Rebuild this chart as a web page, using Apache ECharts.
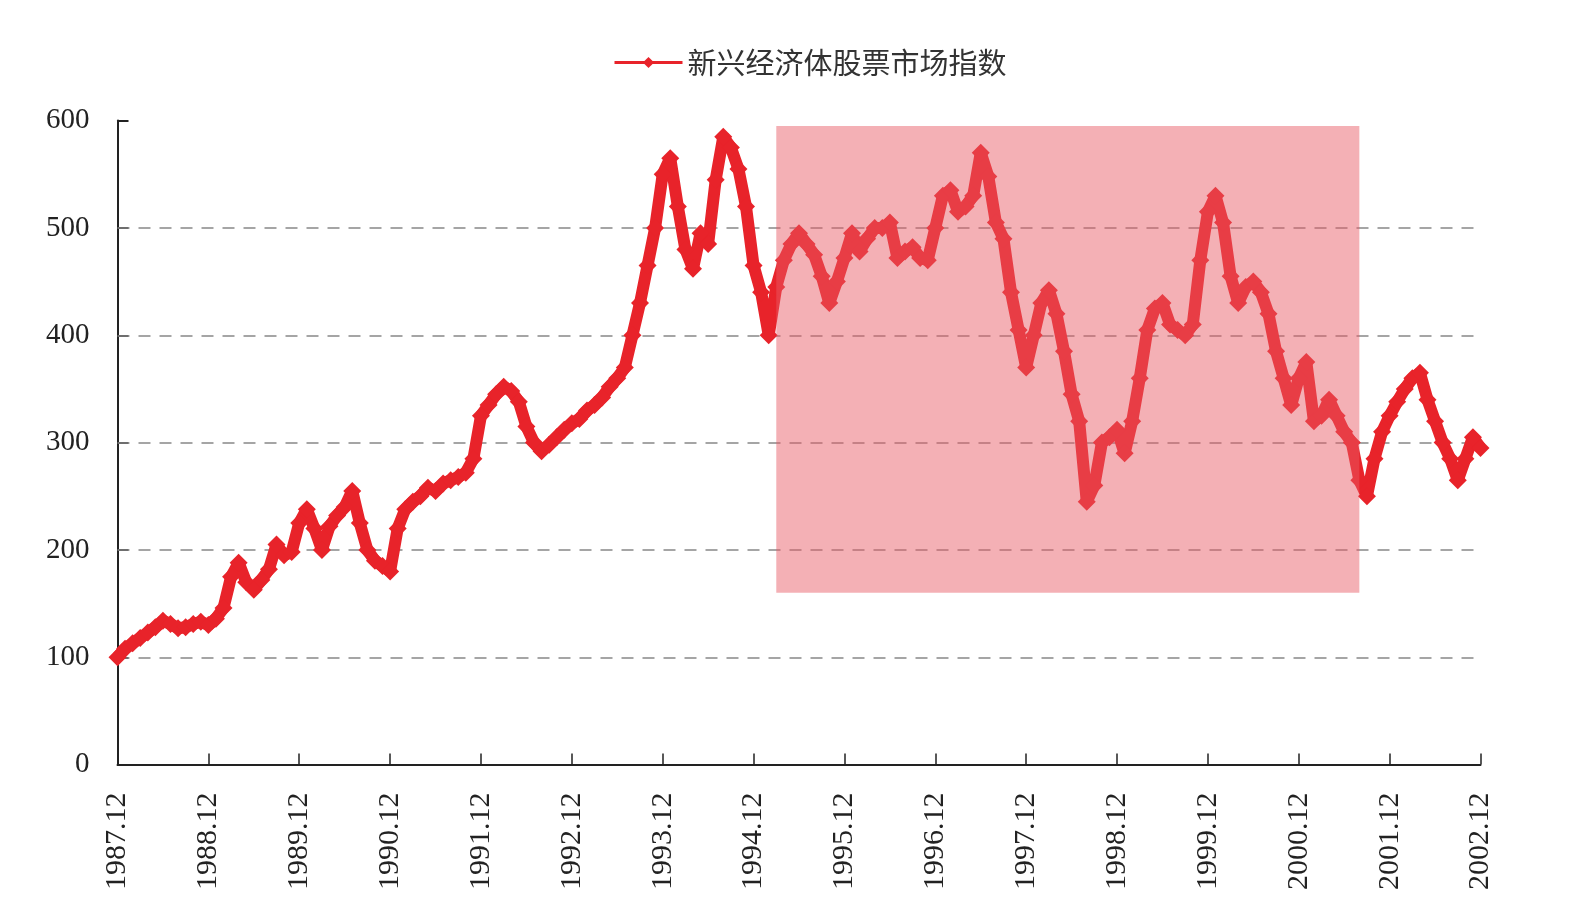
<!DOCTYPE html>
<html>
<head>
<meta charset="utf-8">
<title>新兴经济体股票市场指数</title>
<script src="https://cdn.jsdelivr.net/npm/echarts@6/dist/echarts.min.js"></script>
<style>
    html, body { margin: 0; padding: 0; background: #fff; }
    #main { width: 1586px; height: 916px; }
</style>
</head>
<body>
<div id="main"></div>
<script>
// 月度指数，1987.12 = 100，读自原图
var seriesName = '新兴经济体股票市场指数';
var indexValues = [
    100, 108, 113, 118, 123, 128, 134, 131, 127, 128, 131, 133,   // 1987.12 - 1988.11
    130, 136, 146, 175, 188, 170, 163, 172, 182, 205, 195, 198,   // 1988.12 - 1989.11
    225, 238, 220, 200, 222, 232, 240, 255, 225, 200, 190, 185,   // 1989.12 - 1990.11
    180, 220, 238, 245, 250, 258, 255, 262, 265, 268, 272, 285,   // 1990.12 - 1991.11
    325, 335, 345, 352, 348, 338, 315, 300, 292, 298, 305, 312,   // 1991.12 - 1992.11
    318, 322, 330, 335, 342, 352, 360, 370, 400, 430, 465, 500,   // 1992.12 - 1993.11
    550, 565, 520, 480, 462, 495, 485, 545, 585, 575, 555, 520,   // 1993.12 - 1994.11
    465, 440, 400, 445, 470, 485, 495, 485, 475, 455, 430, 450,   // 1994.12 - 1995.11
    472, 495, 478, 490, 500, 500, 505, 472, 478, 482, 472, 470,   // 1995.12 - 1996.11
    500, 530, 535, 515, 520, 530, 570, 548, 505, 490, 440, 405,   // 1996.12 - 1997.11
    370, 400, 430, 442, 420, 385, 345, 320, 245, 260, 300, 305,   // 1997.12 - 1998.11
    312, 290, 320, 360, 405, 425, 430, 410, 405, 400, 410, 470,   // 1998.12 - 1999.11
    515, 530, 505, 455, 430, 445, 450, 440, 420, 385, 360, 335,   // 1999.12 - 2000.11
    360, 375, 320, 325, 340, 325, 310, 300, 265, 250, 285, 310,   // 2000.12 - 2001.11
    325, 338, 350, 360, 365, 340, 320, 300, 285, 265, 285, 305,   // 2001.12 - 2002.11
    295                                                           // 2002.12
];
var yGridValues = [100, 200, 300, 400, 500];
var shadeFrom = '1995.03';
var shadeTo = '2001.08';
var shadeLow = 160;
var shadeHigh = 595;

// 月份类目 1987.12 ... 2002.12
var months = [];
(function () {
    var y = 1987, m = 12;
    for (var i = 0; i < indexValues.length; i++) {
        months.push(y + '.' + (m < 10 ? '0' + m : m));
        m++;
        if (m > 12) { m = 1; y++; }
    }
})();

var myChart = echarts.init(document.getElementById('main'));
var red = '#e8232a';
var serif = '"Liberation Serif", "Times New Roman", serif';

var option = {
    animation: false,
    backgroundColor: '#fff',
    legend: {
        data: [seriesName],
        top: 43,
        left: 608,
        itemWidth: 68,
        itemHeight: 14,
        itemGap: 10,
        lineStyle: { width: 3 },
        textStyle: {
            fontFamily: '"Noto Sans CJK SC", sans-serif',
            fontSize: 29,
            color: '#333'
        }
    },
    grid: {
        left: 117.5,
        right: 105.5,
        top: 120.6,
        bottom: 151.4,
        containLabel: false
    },
    xAxis: {
        type: 'category',
        data: months,
        boundaryGap: false,
        axisLine: { lineStyle: { color: '#222', width: 2 } },
        axisTick: { inside: true, length: 11, interval: 11, lineStyle: { color: '#222', width: 1.5 } },
        axisLabel: {
            interval: 11,
            rotate: 90,
            margin: 28,
            fontFamily: serif,
            fontSize: 30,
            color: '#222'
        },
        splitLine: { show: false }
    },
    yAxis: {
        type: 'value',
        min: 0,
        max: 600,
        interval: 100,
        axisLine: { show: true, lineStyle: { color: '#222', width: 2 } },
        axisTick: { show: true, inside: true, length: 11, lineStyle: { color: '#222', width: 2 } },
        axisLabel: {
            margin: 28,
            fontFamily: serif,
            fontSize: 29,
            color: '#222'
        },
        splitLine: { show: false }
    },
    series: [{
        name: seriesName,
        type: 'line',
        data: indexValues,
        symbol: 'diamond',
        symbolSize: 18,
        showAllSymbol: true,
        lineStyle: { color: red, width: 12 },
        itemStyle: { color: red },
        markLine: {
            silent: true,
            z: 1,
            symbol: 'none',
            label: { show: false },
            lineStyle: { color: '#888', width: 1.5, type: [12, 9] },
            data: yGridValues.map(function (v) { return { yAxis: v }; })
        },
        markArea: {
            silent: true,
            z: 5,
            itemStyle: { color: 'rgba(232,90,101,0.48)' },
            data: [[
                { xAxis: shadeFrom, yAxis: shadeLow },
                { xAxis: shadeTo, yAxis: shadeHigh }
            ]]
        }
    }]
};
myChart.setOption(option);
</script>
</body>
</html>
